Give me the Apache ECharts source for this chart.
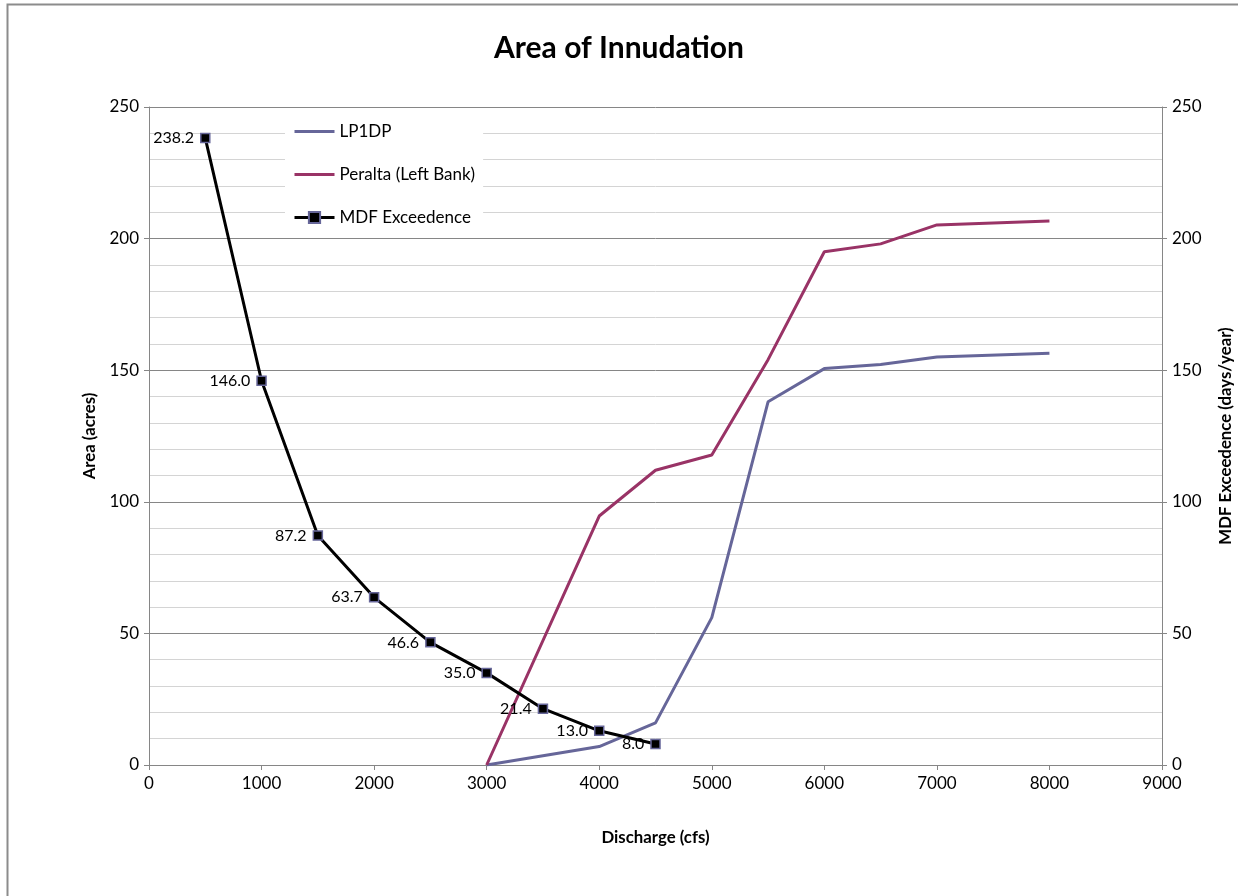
<!DOCTYPE html>
<html>
<head>
<meta charset="utf-8">
<title>Area of Innudation</title>
<script src="https://cdn.jsdelivr.net/npm/echarts@6/dist/echarts.min.js"></script>
<style>
  html, body { margin: 0; padding: 0; background: #fff; }
  #chart { width: 1238px; height: 896px; }
</style>
</head>
<body>
<div id="chart"></div>
<script>
// Discharge (cfs) and inundated area (acres) for each reach
const lp1dpDischarge = [3000, 4000, 4500, 5000, 5500, 6000, 6500, 7000, 8000];
const lp1dpArea      = [0, 7.0, 16.0, 56.0, 138.0, 150.6, 152.2, 155.0, 156.4];

const peraltaDischarge = [3000, 4000, 4500, 5000, 5500, 6000, 6500, 7000, 8000];
const peraltaArea      = [0, 94.6, 112.0, 117.8, 154.0, 195.0, 198.0, 205.2, 206.7];

// Mean daily flow exceedence (days/year) by discharge
const mdfDischarge = [500, 1000, 1500, 2000, 2500, 3000, 3500, 4000, 4500];
const mdfDays      = [238.2, 146.0, 87.2, 63.7, 46.6, 35.0, 21.4, 13.0, 8.0];

const seriesNames = ['LP1DP', 'Peralta (Left Bank)', 'MDF Exceedence'];

const pairs = (xs, ys) => xs.map((x, i) => [x, ys[i]]);

const FONT = 'Lato, "Open Sans", sans-serif';
const AXIS_GRAY = '#868686';

const chart = echarts.init(document.getElementById('chart'), null, { renderer: 'canvas' });

chart.setOption({
  animation: false,
  backgroundColor: '#ffffff',
  textStyle: { fontFamily: FONT, color: '#000' },
  title: {
    text: 'Area of Innudation',
    left: 'center',
    top: 28,
    textStyle: { fontFamily: FONT, fontSize: 30, fontWeight: 'bold', color: '#000' }
  },
  graphic: [{
    type: 'rect',
    shape: { x: 7.5, y: 4.5, width: 1300, height: 1000 },
    style: { fill: 'none', stroke: '#8c8c8c', lineWidth: 2 },
    silent: true,
    z: 100
  }],
  grid: { left: 149, right: 76, top: 107, bottom: 131, containLabel: false, outerBoundsMode: 'none' },
  legend: {
    data: [
      { name: seriesNames[0], itemStyle: { opacity: 0 }, lineStyle: { width: 3 } },
      { name: seriesNames[1], itemStyle: { opacity: 0 }, lineStyle: { width: 3 } },
      { name: seriesNames[2], lineStyle: { width: 3 } }
    ],
    orient: 'vertical',
    left: 285,
    top: 113,
    padding: [10, 8, 10, 8],
    itemGap: 26,
    itemWidth: 40,
    itemHeight: 14,
    backgroundColor: '#ffffff',
    textStyle: { fontFamily: FONT, fontSize: 17, color: '#000' },
    z: 10
  },
  xAxis: {
    type: 'value',
    min: 0, max: 9000, interval: 1000,
    name: 'Discharge (cfs)',
    nameLocation: 'middle',
    nameGap: 64,
    nameTextStyle: { fontFamily: FONT, fontSize: 16.8, fontWeight: 'bold', color: '#000' },
    axisLine: { show: true, lineStyle: { color: AXIS_GRAY, width: 1 } },
    axisTick: { show: true, inside: false, length: 5, lineStyle: { color: AXIS_GRAY } },
    axisLabel: { fontFamily: FONT, fontSize: 17, color: '#000', margin: 10, formatter: v => String(v) },
    splitLine: { show: false }
  },
  yAxis: [{
    type: 'value',
    min: 0, max: 250, interval: 50,
    name: 'Area (acres)',
    nameLocation: 'middle',
    nameGap: 50,
    nameRotate: 90,
    nameTextStyle: { fontFamily: FONT, fontSize: 16.8, fontWeight: 'bold', color: '#000' },
    axisLine: { show: true, lineStyle: { color: AXIS_GRAY, width: 1 } },
    axisTick: { show: true, inside: false, length: 5, lineStyle: { color: AXIS_GRAY } },
    axisLabel: { fontFamily: FONT, fontSize: 17, color: '#000', margin: 10, formatter: v => String(v) },
    splitLine: { show: true, lineStyle: { color: AXIS_GRAY, width: 1 } },
    minorTick: { show: false, splitNumber: 5 },
    minorSplitLine: { show: true, lineStyle: { color: '#d4d4d4', width: 1 } }
  }, {
    type: 'value',
    min: 0, max: 250, interval: 50,
    position: 'right',
    name: 'MDF Exceedence (days/year)',
    nameLocation: 'middle',
    nameGap: 55,
    nameRotate: 90,
    nameTextStyle: { fontFamily: FONT, fontSize: 16.8, fontWeight: 'bold', color: '#000' },
    axisLine: { show: true, lineStyle: { color: AXIS_GRAY, width: 1 } },
    axisTick: { show: true, inside: false, length: 5, lineStyle: { color: AXIS_GRAY } },
    axisLabel: { fontFamily: FONT, fontSize: 17, color: '#000', margin: 10, formatter: v => String(v) },
    splitLine: { show: false }
  }],
  series: [{
    name: seriesNames[0],
    type: 'line',
    yAxisIndex: 0,
    data: pairs(lp1dpDischarge, lp1dpArea),
    showSymbol: false,
    symbol: 'none',
    color: '#666699',
    lineStyle: { color: '#666699', width: 3 },
    z: 3
  }, {
    name: seriesNames[1],
    type: 'line',
    yAxisIndex: 0,
    data: pairs(peraltaDischarge, peraltaArea),
    showSymbol: false,
    symbol: 'none',
    color: '#993366',
    lineStyle: { color: '#993366', width: 3 },
    z: 3
  }, {
    name: seriesNames[2],
    type: 'line',
    yAxisIndex: 1,
    data: pairs(mdfDischarge, mdfDays),
    symbol: 'rect',
    symbolSize: 9,
    color: '#000000',
    itemStyle: { color: '#000000', borderColor: '#666699', borderWidth: 1.5 },
    lineStyle: { color: '#000000', width: 3 },
    label: {
      show: true,
      position: 'left',
      distance: 6,
      fontFamily: FONT,
      fontSize: 16,
      color: '#000',
      formatter: p => p.value[1].toFixed(1)
    },
    z: 4
  }]
});
</script>
</body>
</html>
